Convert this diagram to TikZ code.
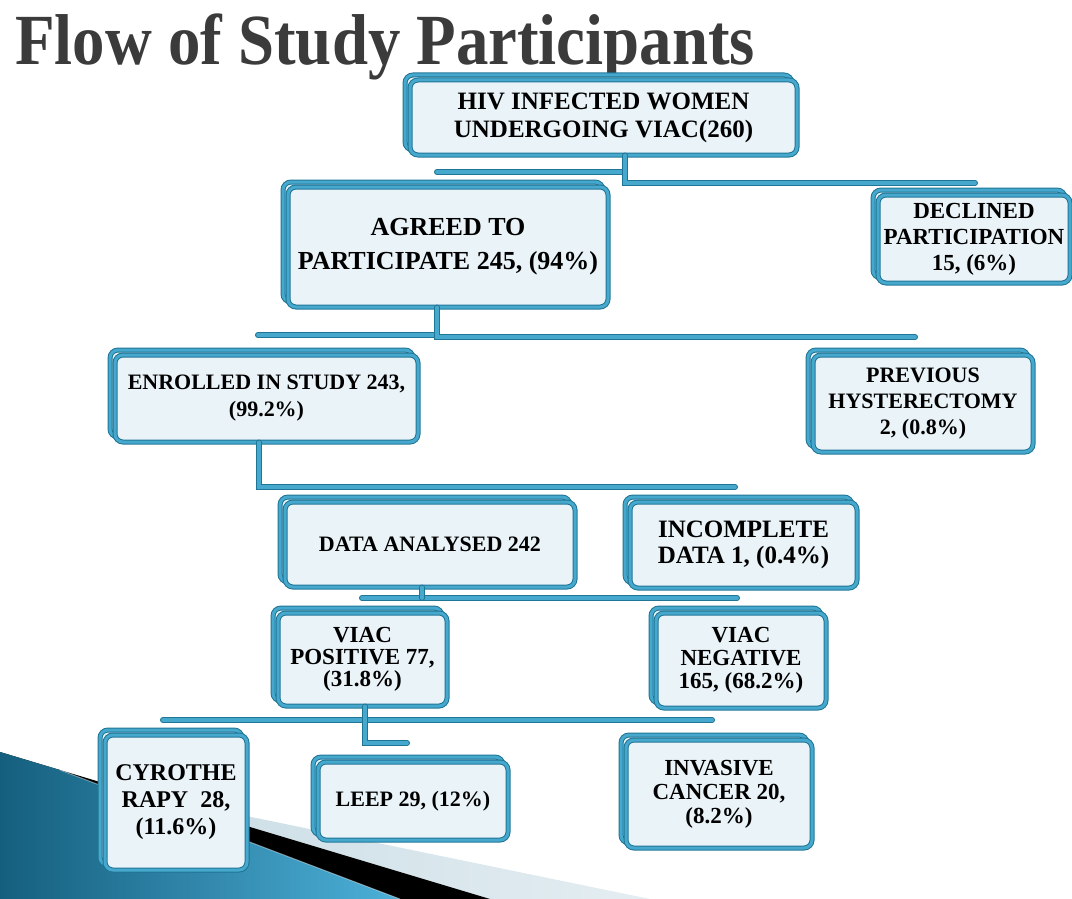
\documentclass[tikz,border=0pt]{standalone}
\usepackage{fontspec}
\setmainfont{Liberation Serif}
\usetikzlibrary{shadows}
\definecolor{tealD}{HTML}{1F7596}
\definecolor{tealM}{HTML}{45A8CC}
\definecolor{boxfill}{HTML}{EAF3F8}
\definecolor{titlegray}{HTML}{3B3B3B}
\definecolor{bandlight}{HTML}{C3D8E2}
\definecolor{blueDark}{HTML}{155F7E}
\definecolor{blueLight}{HTML}{4DB0D8}
\tikzset{
  fs/.style n args={2}{font=\fontsize{#1}{#2}\selectfont\bfseries},
  box/.style={draw=tealD, line width=1pt, double=tealM, double distance=3pt,
    rounded corners=8pt, fill=boxfill, align=center, inner sep=2pt, text=black,
    copy shadow={shadow xshift=-5pt, shadow yshift=5pt, draw=tealD, double=tealM, fill=boxfill}},
  conn/.style={draw=tealD, line width=1.1pt, double=tealM, double distance=3.8pt, line cap=round},
}
\begin{document}
\begin{tikzpicture}[x=1pt,y=-1pt]
\useasboundingbox (0,0) rectangle (1072,899);
\fill[white] (0,0) rectangle (1072,899);
% decoration bottom-left
\shade[left color=bandlight, right color=bandlight!45!white] (120,790) -- (650,899) -- (0,899) -- (0,752) -- cycle;
\fill[black] (0,752) -- (490,899) -- (0,899) -- cycle;
\shade[left color=blueDark, right color=blueLight] (0,752) -- (60,770) -- (400,899) -- (0,899) -- cycle;
\draw[white, opacity=0.4, line width=1pt] (60,770) -- (400,899);
% title
\node[anchor=base west, inner sep=0, text=titlegray, font=\fontsize{72}{72}\selectfont\bfseries] (title) at (15,65) {\scalebox{0.9}[1]{Flow of Study Participants}};
% boxes
\node[box, fs={25}{28}, minimum width=387pt, minimum height=75pt] (hiv) at (603.5,117.5) {HIV INFECTED WOMEN\\UNDERGOING VIAC(260)};
\node[box, fs={26}{34}, minimum width=320pt, minimum height=120pt] (agreed) at (448,247) {AGREED TO\\PARTICIPATE 245, (94\%)};
\node[box, fs={23}{26}, minimum width=192pt, minimum height=88pt] (declined) at (974,239) {DECLINED\\PARTICIPATION\\15, (6\%)};
\node[box, fs={22}{27}, minimum width=303pt, minimum height=87pt] (enrolled) at (266.5,398.5) {ENROLLED IN STUDY 243,\\(99.2\%)};
\node[box, fs={22}{26}, minimum width=220pt, minimum height=97pt] (previous) at (923,403.5) {PREVIOUS\\HYSTERECTOMY\\2, (0.8\%)};
\node[box, fs={22}{25}, minimum width=290pt, minimum height=85pt] (data) at (430,544.5) {DATA ANALYSED 242};
\node[box, fs={25}{26}, minimum width=227pt, minimum height=86pt] (incomplete) at (743.5,545) {INCOMPLETE\\DATA 1, (0.4\%)};
\node[box, fs={23}{22}, minimum width=169pt, minimum height=93pt] (positive) at (362.5,659.5) {VIAC\\POSITIVE 77,\\(31.8\%)};
\node[box, fs={23}{23}, minimum width=170pt, minimum height=95pt] (negative) at (741,660.5) {VIAC\\NEGATIVE\\165, (68.2\%)};
\node[box, fs={24}{27}, minimum width=142pt, minimum height=135pt] (cyro) at (176,802.5) {CYROTHE\\RAPY~~28,\\(11.6\%)};
\node[box, fs={22}{26}, minimum width=190pt, minimum height=78pt] (leep) at (413,801) {LEEP 29, (12\%)};
\node[box, fs={23}{24}, minimum width=186pt, minimum height=108pt] (invasive) at (719,794) {INVASIVE\\CANCER 20,\\(8.2\%)};
% connectors
\coordinate (j1) at (625,183);
\coordinate (j1r) at (975,183);
\coordinate (j1l) at (437,172);
\draw[conn] (j1l) -- (j1l -| j1);
\draw[conn] (hiv.south -| j1) -- (j1) -- (j1r);
\coordinate (j2) at (437,337);
\coordinate (j2r) at (915,337);
\coordinate (j2l) at (258,335);
\draw[conn] (j2l) -- (j2l -| j2);
\draw[conn] (agreed.south -| j2) -- (j2) -- (j2r);
\coordinate (j3) at (259,487);
\coordinate (j3r) at (735,487);
\draw[conn] (enrolled.south -| j3) -- (j3) -- (j3r);
\coordinate (j4) at (422,598);
\coordinate (j4l) at (362,598);
\coordinate (j4r) at (737,598);
\draw[conn] (j4l) -- (j4r);
\draw[conn] (data.south -| j4) -- (j4);
\coordinate (j5) at (365,743);
\coordinate (j5e) at (407,743);
\coordinate (j5l) at (163,720);
\coordinate (j5r) at (712,720);
\draw[conn] (j5l) -- (j5r);
\draw[conn] (positive.south -| j5) -- (j5) -- (j5e);
\end{tikzpicture}
\end{document}
